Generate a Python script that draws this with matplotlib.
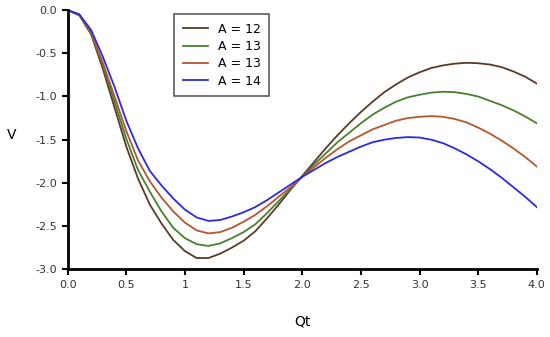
import numpy as np
import matplotlib
matplotlib.use("Agg")
import matplotlib.pyplot as plt

# values
qt = [0.0, 0.1, 0.2, 0.3, 0.4, 0.5, 0.6, 0.7, 0.8, 0.9, 1.0,
      1.1, 1.2, 1.3, 1.4, 1.5, 1.6, 1.7, 1.8, 1.9, 2.0,
      2.1, 2.2, 2.3, 2.4, 2.5, 2.6, 2.7, 2.8, 2.9, 3.0,
      3.1, 3.2, 3.3, 3.4, 3.5, 3.6, 3.7, 3.8, 3.9, 4.0]

v_a12 = [0.0, -0.06, -0.28, -0.68, -1.13, -1.58, -1.95, -2.25, -2.47, -2.66, -2.79,
         -2.87, -2.87, -2.82, -2.75, -2.67, -2.56, -2.41, -2.25, -2.08, -1.92,
         -1.76, -1.60, -1.45, -1.31, -1.18, -1.06, -0.95, -0.86, -0.78, -0.72,
         -0.67, -0.64, -0.62, -0.61, -0.615, -0.63, -0.66, -0.71, -0.77, -0.85]

v_a13 = [0.0, -0.06, -0.27, -0.64, -1.06, -1.49, -1.85, -2.10, -2.33, -2.52, -2.64,
         -2.71, -2.73, -2.70, -2.64, -2.57, -2.48, -2.35, -2.21, -2.07, -1.93,
         -1.79, -1.66, -1.53, -1.42, -1.31, -1.21, -1.13, -1.06, -1.01, -0.98,
         -0.955, -0.945, -0.95, -0.97, -1.00, -1.05, -1.10, -1.16, -1.23, -1.31]

v_a13b = [0.0, -0.05, -0.26, -0.61, -1.00, -1.40, -1.74, -1.98, -2.17, -2.33, -2.46,
          -2.55, -2.585, -2.57, -2.52, -2.45, -2.37, -2.27, -2.16, -2.05, -1.93,
          -1.82, -1.71, -1.61, -1.52, -1.45, -1.38, -1.33, -1.28, -1.25, -1.235,
          -1.227, -1.235, -1.26, -1.30, -1.36, -1.43, -1.51, -1.60, -1.70, -1.81]

v_a14 = [0.0, -0.05, -0.23, -0.54, -0.89, -1.28, -1.60, -1.86, -2.03, -2.18, -2.31,
         -2.40, -2.44, -2.43, -2.39, -2.34, -2.28, -2.20, -2.11, -2.02, -1.93,
         -1.85, -1.77, -1.70, -1.64, -1.58, -1.53, -1.50, -1.48, -1.47, -1.475,
         -1.50, -1.54, -1.60, -1.67, -1.75, -1.84, -1.94, -2.05, -2.16, -2.28]

labels = ["A = 12", "A = 13", "A = 13", "A = 14"]
colors = ["#5b3a29", "#4a7f2e", "#b5562f", "#2a2ae6"]

xticks = [0.0, 0.5, 1.0, 1.5, 2.0, 2.5, 3.0, 3.5, 4.0]
xtick_labels = ["0.0", "0.5", "1", "1.5", "2.0", "2.5", "3.0", "3.5", "4.0"]
yticks = [0.0, -0.5, -1.0, -1.5, -2.0, -2.5, -3.0]

fig = plt.figure(figsize=(5.5, 3.37), dpi=100)
ax = fig.add_axes([0.123, 0.201, 0.853, 0.769])

for v, lab, c in zip([v_a12, v_a13, v_a13b, v_a14], labels, colors):
    ax.plot(qt, v, color=c, lw=1.3, label=lab)

ax.set_xlim(0, 4)
ax.set_ylim(-3, 0)
ax.set_xticks(xticks)
ax.set_xticklabels(xtick_labels)
ax.set_yticks(yticks)
ax.set_yticklabels(["%.1f" % t for t in yticks])

for s in ["top", "right"]:
    ax.spines[s].set_visible(False)
for s in ["left", "bottom"]:
    ax.spines[s].set_linewidth(2)
ax.tick_params(direction="out", length=4, width=1.5, labelsize=8, labelcolor="#333333")

ax.set_xlabel("Qt", fontsize=10, labelpad=18)
ax.set_ylabel("V", fontsize=10, rotation=0, va="center")
ax.yaxis.set_label_coords(-0.12, 0.52)

leg = ax.legend(loc="upper left", bbox_to_anchor=(0.213, 1.01), fontsize=9,
                frameon=True, fancybox=False, handlelength=2.0, borderpad=0.7,
                labelspacing=0.35)
leg.get_frame().set_edgecolor("#333333")
leg.get_frame().set_linewidth(1.2)

fig.savefig("out.png", dpi=100)
